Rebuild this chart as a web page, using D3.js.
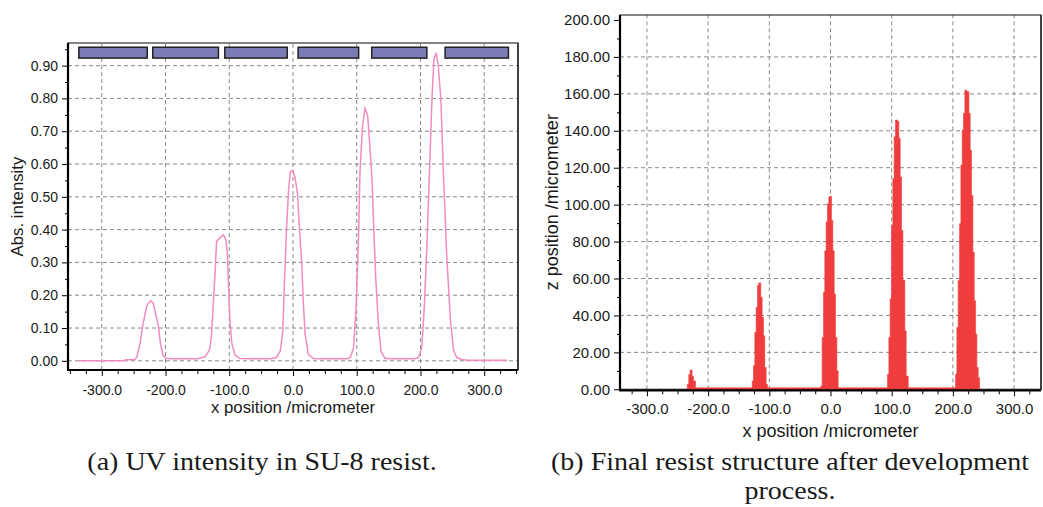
<!DOCTYPE html>
<html>
<head>
<meta charset="utf-8">
<script src="https://cdn.jsdelivr.net/npm/d3@7"></script>
<style>
body { margin: 0; background: #fff; }
svg text { font-family: "Liberation Sans", Arial, sans-serif; fill: #1a1a1a; }
.caption { font-family: "Liberation Serif", "DejaVu Serif", serif; }
</style>
</head>
<body>
<div id="fig"></div>
<script>
// (a) UV intensity profile
var uvX = [-336, -265, -263, -248, -245, -240, -236, -232, -229, -223, -219, -215, -211, -208, -204, -199, -190, -150,
           -138, -131, -128, -125, -122, -120, -115, -109, -105, -103, -101, -99, -96, -91, -83, -70, -35,
           -26, -20, -16, -13, -10, -7, -4, -0.5, 3, 7, 10, 14, 16, 19, 24, 32, 45, 85,
           90, 95, 99, 103, 105, 109, 113, 117, 120, 124, 127, 130, 134, 138, 144, 155, 190,
           197, 202, 206, 210, 214, 218, 221, 224.5, 228, 232, 236, 241, 247, 252, 257, 265, 273, 336];
var uvY = [0, 0, 0.003, 0.004, 0.012, 0.053, 0.104, 0.144, 0.170, 0.183, 0.175, 0.139, 0.104, 0.053, 0.017, 0.008, 0.006, 0.006,
           0.012, 0.033, 0.074, 0.175, 0.277, 0.363, 0.375, 0.384, 0.368, 0.327, 0.226, 0.124, 0.053, 0.017, 0.007, 0.006, 0.006,
           0.010, 0.030, 0.090, 0.265, 0.408, 0.520, 0.577, 0.580, 0.561, 0.510, 0.408, 0.286, 0.184, 0.082, 0.020, 0.007, 0.006, 0.006,
           0.010, 0.040, 0.163, 0.388, 0.571, 0.714, 0.770, 0.750, 0.673, 0.551, 0.388, 0.245, 0.112, 0.030, 0.008, 0.006, 0.006,
           0.010, 0.040, 0.163, 0.347, 0.571, 0.796, 0.918, 0.939, 0.898, 0.796, 0.571, 0.327, 0.122, 0.031, 0.010, 0.004, 0.002, 0.002];

// mask blocks drawn on top of the intensity plot
var maskStart = [-336, -220, -107, 8, 123.5, 238.6];
var maskEnd = [-228.7, -117, -9, 103, 210, 338];
var maskLow = 0.923;
var maskHigh = 0.956;

// (b) developed resist height (stepped)
var resistX = [-234, -231.6, -229.4, -226.2, -224, -220.7,
               -128, -125.9, -123.7, -121.5, -119.3, -117.2, -113.9, -111.7, -109.5, -107.4, -105.2, -103,
               -15.8, -13.6, -11.4, -9.3, -7.1, -4.9, -2.7, -0.5, 1.6, 3.8, 6, 8.2, 10.4, 12.5,
               93.2, 95.4, 97.5, 99.7, 101.9, 104.1, 106.3, 109.5, 111.7, 113.9, 116.1, 118.3, 121.5, 123.7, 127,
               204.4, 206.5, 208.7, 210.9, 213.1, 215.3, 217.4, 219.6, 222.9, 226.2, 228.3, 230.5, 232.7, 234.9, 237.1, 239.2, 241.4, 243.6];
var resistZ = [2.7, 8, 10.5, 7, 4.5, 0.8,
               4.5, 12.7, 30.8, 44.4, 56.2, 57.6, 49.8, 39, 29, 11.8, 2.7, 0.8,
               1.8, 28, 52.5, 75, 90.6, 100.5, 104.2, 104.5, 91.5, 75, 51.6, 28, 10, 0.8,
               8.2, 28, 49, 88.8, 114, 136.8, 145.8, 145, 136, 115, 86, 59, 31.7, 7.2, 0.8,
               8.2, 33.5, 58.9, 89.7, 121.4, 140.4, 149.5, 162, 161.2, 149.5, 129.5, 105, 74.3, 48, 29.9, 11.8, 6.3, 0];

var xTicks = [-300, -200, -100, 0, 100, 200, 300];
var uvTicks = [0, 0.1, 0.2, 0.3, 0.4, 0.5, 0.6, 0.7, 0.8, 0.9];
var zTicks = [0, 20, 40, 60, 80, 100, 120, 140, 160, 180, 200];

var W = 1043, H = 507;

var svg = d3.select("#fig")
			.append("svg")
			.attr("width", W)
			.attr("height", H);

svg.append("rect").attr("width", W).attr("height", H).attr("fill", "#fff");

// shared frame: grid and border
function drawFrame(g, x, y, opt) {
	var x0 = x.range()[0], x1 = x.range()[1];
	var y0 = y.range()[0], y1 = y.range()[1];

	g.selectAll(".vgrid")
	 .data(xTicks)
	 .enter()
	 .append("line")
	 .attr("x1", d => x(d)).attr("x2", d => x(d))
	 .attr("y1", y0).attr("y2", y1)
	 .attr("stroke", "#8a8a8a")
	 .attr("stroke-dasharray", "4,3");

	g.selectAll(".hgrid")
	 .data(opt.yTicks.filter(opt.gridFilter))
	 .enter()
	 .append("line")
	 .attr("x1", x0).attr("x2", x1)
	 .attr("y1", d => y(d)).attr("y2", d => y(d))
	 .attr("stroke", "#8a8a8a")
	 .attr("stroke-dasharray", "4,3");

	g.append("rect")
	 .attr("x", x0).attr("y", y1)
	 .attr("width", x1 - x0).attr("height", y0 - y1)
	 .attr("fill", "none")
	 .attr("stroke", "#333")
	 .attr("stroke-width", 1.2);
}

function drawAxes(g, x, y, opt) {
	var x0 = x.range()[0], x1 = x.range()[1];
	var y0 = opt.axisY, y1 = y.range()[1];

	var minorX = d3.range(-350, 351, 25).filter(d => xTicks.indexOf(d) < 0 && d > x.domain()[0] && d < x.domain()[1]);

	var xAxis = g.append("g")
				 .attr("transform", "translate(0," + y0 + ")")
				 .call(d3.axisBottom(x).tickValues(xTicks).tickSize(6).tickPadding(opt.xPad)
						 .tickFormat(d => d.toFixed(1)));
	xAxis.selectAll("text").style("font-size", opt.fs + "px");
	xAxis.select(".domain").remove();

	g.append("g")
	 .attr("transform", "translate(0," + y0 + ")")
	 .call(d3.axisBottom(x).tickValues(minorX).tickSize(4).tickFormat(""))
	 .select(".domain").remove();

	var yAxis = g.append("g")
				 .attr("transform", "translate(" + x0 + ",0)")
				 .call(d3.axisLeft(y).tickValues(opt.yTicks).tickSize(6).tickPadding(4)
						 .tickFormat(d => d.toFixed(2)));
	yAxis.selectAll("text").style("font-size", opt.fs + "px");
	yAxis.select(".domain").remove();

	g.append("g")
	 .attr("transform", "translate(" + x0 + ",0)")
	 .call(d3.axisLeft(y).tickValues(opt.minorY).tickSize(3).tickFormat(""))
	 .select(".domain").remove();

	// thick axis lines
	g.append("line")
	 .attr("x1", x0).attr("x2", x0)
	 .attr("y1", y1).attr("y2", y0 + 1)
	 .attr("stroke", "#000").attr("stroke-width", 2.2);
	g.append("line")
	 .attr("x1", x0).attr("x2", x1)
	 .attr("y1", y0).attr("y2", y0)
	 .attr("stroke", "#000").attr("stroke-width", 2.2);
	g.append("line")
	 .attr("x1", x1).attr("x2", x1)
	 .attr("y1", y1).attr("y2", y0)
	 .attr("stroke", "#333").attr("stroke-width", 1.6);

	// labels
	g.append("text")
	 .attr("x", (x0 + x1) / 2)
	 .attr("y", opt.xLabelY)
	 .attr("text-anchor", "middle")
	 .style("font-size", opt.lfs + "px")
	 .text("x position /micrometer");

	g.append("text")
	 .attr("transform", "translate(" + opt.yLabelX + "," + ((y.range()[0] + y1) / 2) + ") rotate(-90)")
	 .attr("text-anchor", "middle")
	 .style("font-size", opt.lfs + "px")
	 .text(opt.yLabel);
}

// ---- panel (a)
var xa = d3.scaleLinear().domain([-353, 353]).range([68, 518]);
var ya = d3.scaleLinear().domain([-0.028, 0.969]).range([370, 43]);
var ga = svg.append("g");

drawFrame(ga, xa, ya, {yTicks: uvTicks, gridFilter: d => true});

var uvData = uvX.map((d, i) => ({x: d, y: uvY[i]}));
ga.append("path")
  .datum(uvData)
  .attr("fill", "none")
  .attr("stroke", "#f28cc0")
  .attr("stroke-width", 1.5)
  .attr("d", d3.line().x(d => xa(d.x)).y(d => ya(d.y)));

ga.selectAll(".mask")
  .data(maskStart)
  .enter()
  .append("rect")
  .attr("x", (d, i) => xa(d))
  .attr("width", (d, i) => xa(maskEnd[i]) - xa(d))
  .attr("y", ya(maskHigh))
  .attr("height", ya(maskLow) - ya(maskHigh))
  .attr("fill", "#7b7bb6")
  .attr("stroke", "#222")
  .attr("stroke-width", 1.5);

drawAxes(ga, xa, ya, {
	yTicks: uvTicks, minorY: d3.range(0.05, 0.96, 0.1), axisY: 370, xPad: 9, fs: 14,
	lfs: 16.8, xLabelY: 413, yLabelX: 23, yLabel: "Abs. intensity"
});

// ---- panel (b)
var xb = d3.scaleLinear().domain([-344, 344]).range([620, 1041]);
var yb = d3.scaleLinear().domain([0, 202.7]).range([389.3, 15]);
var gb = svg.append("g");

drawFrame(gb, xb, yb, {yTicks: zTicks, gridFilter: d => d > 0 && d < 200});

var resistData = resistX.map((d, i) => ({x: d, z: resistZ[i]}));
gb.append("path")
  .datum(resistData)
  .attr("fill", "#f03c3c")
  .attr("stroke", "#f03c3c")
  .attr("stroke-width", 0.6)
  .attr("d", d3.area().curve(d3.curveStepAfter)
			   .x(d => xb(d.x)).y0(yb(0)).y1(d => yb(d.z)));

drawAxes(gb, xb, yb, {
	yTicks: zTicks, minorY: d3.range(10, 200, 20), axisY: 390.3, xPad: 7, fs: 15,
	lfs: 18, xLabelY: 437, yLabelX: 558, yLabel: "z position /micrometer"
});

// captions: serif, widened a little to get the book-face look
function caption(cx, cy, txt) {
	svg.append("text")
	   .attr("class", "caption")
	   .attr("transform", "translate(" + cx + "," + cy + ") scale(1.12,1)")
	   .attr("text-anchor", "middle")
	   .style("font-size", "25px")
	   .text(txt);
}

caption(262, 470, "(a) UV intensity in SU-8 resist.");
caption(790, 470, "(b) Final resist structure after development");
caption(790, 499, "process.");
</script>
</body>
</html>
